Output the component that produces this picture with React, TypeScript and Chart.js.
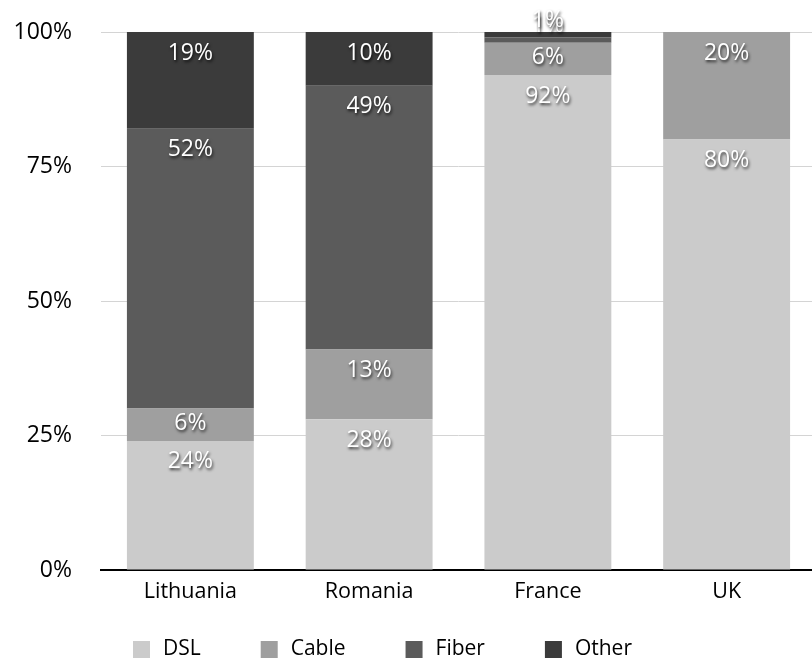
import React, { useEffect, useRef } from "react";
import { Chart, registerables } from "chart.js";

Chart.register(...registerables);

const categories = ["Lithuania", "Romania", "France", "UK"];
const seriesNames = ["DSL", "Cable", "Fiber", "Other"];
const dslValues = [24, 28, 92, 80];
const cableValues = [6, 13, 6, 20];
const fiberValues = [52, 49, 1, 0];
const otherValues = [19, 10, 1, 0];
const seriesColors = ["#cbcbcb", "#9f9f9f", "#5b5b5b", "#3b3b3b"];
const yTickValues = [0, 25, 50, 75, 100];

const FONT = '"Open Sans", sans-serif';
const LEGEND_X = 133;
const LEGEND_Y = 649;
const LEGEND_GAP = 60;

const segLabelPlugin = {
  id: "segLabels",
  afterDatasetsDraw(chart: any) {
    const ctx = chart.ctx;
    const area = chart.chartArea;
    ctx.save();
    ctx.font = `23px ${FONT}`;
    ctx.textAlign = "center";
    ctx.textBaseline = "middle";
    ctx.fillStyle = "#ffffff";
    ctx.shadowColor = "rgba(0,0,0,0.75)";
    ctx.shadowOffsetX = 1;
    ctx.shadowOffsetY = 2;
    ctx.shadowBlur = 3;
    chart.data.datasets.forEach((ds: any, di: number) => {
      const meta = chart.getDatasetMeta(di);
      meta.data.forEach((el: any, i: number) => {
        const v = ds.data[i];
        if (!v) return;
        const p = el.getProps(["x", "y", "base"], true);
        const top = Math.max(Math.min(p.y, p.base), area.top);
        const bottom = Math.max(p.y, p.base);
        const h = bottom - top;
        let ty: number;
        if (h >= 42) ty = top + 21;
        else if (h >= 15) ty = (top + bottom) / 2 - 1;
        else ty = top - 12;
        ctx.fillText(v + "%", p.x, ty);
      });
    });
    ctx.restore();
  },
};

const legendPlugin = {
  id: "bottomLegend",
  afterDraw(chart: any) {
    const ctx = chart.ctx;
    ctx.save();
    ctx.font = `21px ${FONT}`;
    ctx.textBaseline = "middle";
    ctx.textAlign = "left";
    let x = LEGEND_X;
    chart.data.datasets.forEach((ds: any) => {
      ctx.fillStyle = ds.backgroundColor;
      ctx.fillRect(x, LEGEND_Y - 8, 17, 17);
      ctx.fillStyle = "#000000";
      ctx.fillText(ds.label, x + 30, LEGEND_Y);
      x += 30 + ctx.measureText(ds.label).width + LEGEND_GAP;
    });
    ctx.restore();
  },
};

export default function App() {
  const canvasRef = useRef<HTMLCanvasElement | null>(null);

  useEffect(() => {
    if (!canvasRef.current) return;
    const values = [dslValues, cableValues, fiberValues, otherValues];
    const chart = new Chart(canvasRef.current, {
      type: "bar",
      data: {
        labels: categories,
        datasets: seriesNames.map((name, i) => ({
          label: name,
          data: values[i],
          backgroundColor: seriesColors[i],
          borderWidth: 0,
          categoryPercentage: 1,
          barPercentage: 0.71,
        })),
      },
      options: {
        animation: false,
        responsive: true,
        maintainAspectRatio: false,
        layout: { padding: { top: 32, bottom: 50, left: 0, right: 0 } },
        plugins: {
          legend: { display: false },
          tooltip: { enabled: false },
        },
        scales: {
          x: {
            stacked: true,
            grid: { display: false, drawTicks: false },
            border: { display: true, color: "#000000", width: 2 },
            ticks: {
              color: "#000000",
              font: { family: FONT, size: 21.5 },
              padding: 9,
              maxRotation: 0,
            },
            afterFit(scale: any) {
              scale.height = 40;
              scale.paddingLeft = 0;
              scale.paddingRight = 0;
            },
          },
          y: {
            stacked: true,
            min: 0,
            max: 100,
            grid: { color: "#d4d4d4", lineWidth: 1, drawTicks: false },
            border: { display: false },
            afterBuildTicks(scale: any) {
              scale.ticks = yTickValues.map((v) => ({ value: v }));
            },
            ticks: {
              color: "#000000",
              font: { family: FONT, size: 23 },
              padding: 29,
              callback: (v: any) => v + "%",
            },
            afterFit(scale: any) {
              scale.width = 101;
              scale.paddingTop = 0;
              scale.paddingBottom = 0;
            },
          },
        },
      },
      plugins: [segLabelPlugin, legendPlugin],
    });
    return () => chart.destroy();
  }, []);

  return (
    <div style={{ position: "fixed", left: 0, top: 0, width: 816, height: 660 }}>
      <canvas ref={canvasRef} />
    </div>
  );
}
